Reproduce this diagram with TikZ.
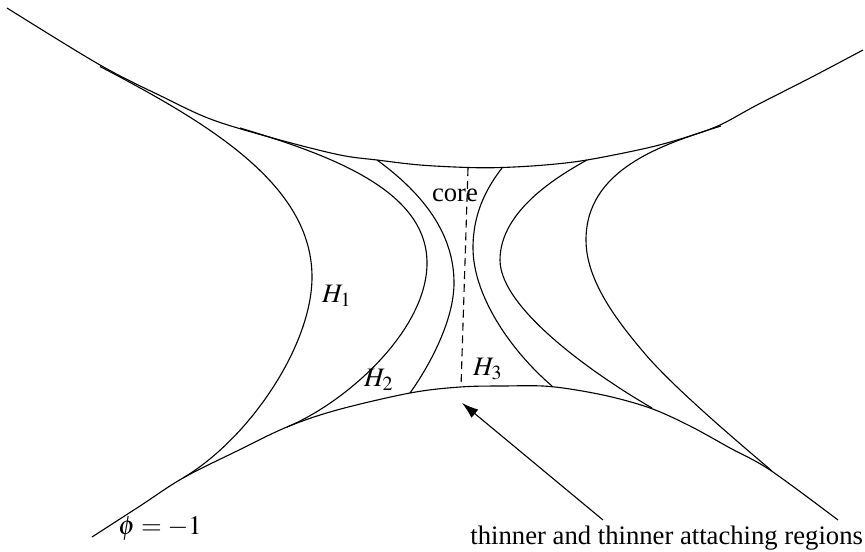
\documentclass[tikz,border=0pt]{standalone}
\usepackage{mathptmx}
\usepackage[no-math]{fontspec}
\setmainfont{Liberation Serif}
\usetikzlibrary{arrows.meta}
\tikzset{
  curve/.style={line width=0.5pt},
  smoothcurve/.style={line width=0.5pt, smooth, tension=0.55},
  coreline/.style={line width=0.5pt, dash pattern=on 3.6pt off 2.2pt},
  pointer/.style={line width=0.5pt, -{Latex[length=7.5pt,width=4.8pt]}},
  lbl/.style={inner sep=0pt, font=\fontsize{12}{14}\selectfont}
}
\begin{document}
\begin{tikzpicture}[x=0.45pt,y=-0.45pt]
\useasboundingbox (0,0) rectangle (865,551);
% top boundary
\draw[smoothcurve] plot coordinates {(7,8) (100,65) (163,97) (213,120) (280,140) (340,155) (377,160) (420,165) (468,167.5) (502,167.5) (545,165) (587,160) (647,148) (687,137) (720,125) (757,105) (810,78) (863,50)};
% bottom boundary
\draw[smoothcurve] plot coordinates {(92,537) (140,506) (183,478) (237,451) (287,427) (337,410) (410,393) (460,387) (503,386) (550,386.5) (603,395) (650,408) (690,426) (730,448) (770,470) (838,520)};
% H1
\draw[curve] (100,66.5) .. controls (210,124) and (312,185) .. (312,277)
                        .. controls (312,345) and (250,438) .. (183,478);
% H2
\draw[curve] (240,128) .. controls (330,155) and (427,190) .. (427,263)
                       .. controls (427,330) and (347,402) .. (287,427);
% left of core
\draw[curve] (377,160) .. controls (425,195) and (454,235) .. (454,283)
                       .. controls (454,320) and (430,365) .. (410,393);
% right of core
\draw[curve] (502,168) .. controls (485,190) and (473,215) .. (473,248)
                       .. controls (473,295) and (510,350) .. (552,386);
% fifth
\draw[curve] (587,160) .. controls (560,175) and (500,210) .. (500,260)
                       .. controls (500,310) and (600,378) .. (652,408);
% sixth
\draw[curve] (721,126) .. controls (660,145) and (586,170) .. (586,240)
                       .. controls (586,280) and (616,320) .. (646,355)
                       .. controls (676,390) and (745,448) .. (772,471);
% core dashed line
\coordinate (coreTop) at (468,168);
\coordinate (coreBot) at (461,387);
\draw[coreline] (coreTop) -- (coreBot);
% labels
\node[lbl] (core) at (455,195) {core};
\node[lbl] (h1) at (337,296) {$H_1$};
\node[lbl] (h2) at (379,380) {$H_2$};
\node[lbl] (h3) at (488,369) {$H_3$};
\node[lbl] (phi) at (160,529) {$\phi=-1$};
\node[lbl, anchor=west] (thin) at (470,538) {thinner and thinner attaching regions};
% arrow
\coordinate (arrS) at (603,520);
\coordinate (arrT) at (462,403);
\draw[pointer] (arrS) -- (arrT);
\end{tikzpicture}
\end{document}
